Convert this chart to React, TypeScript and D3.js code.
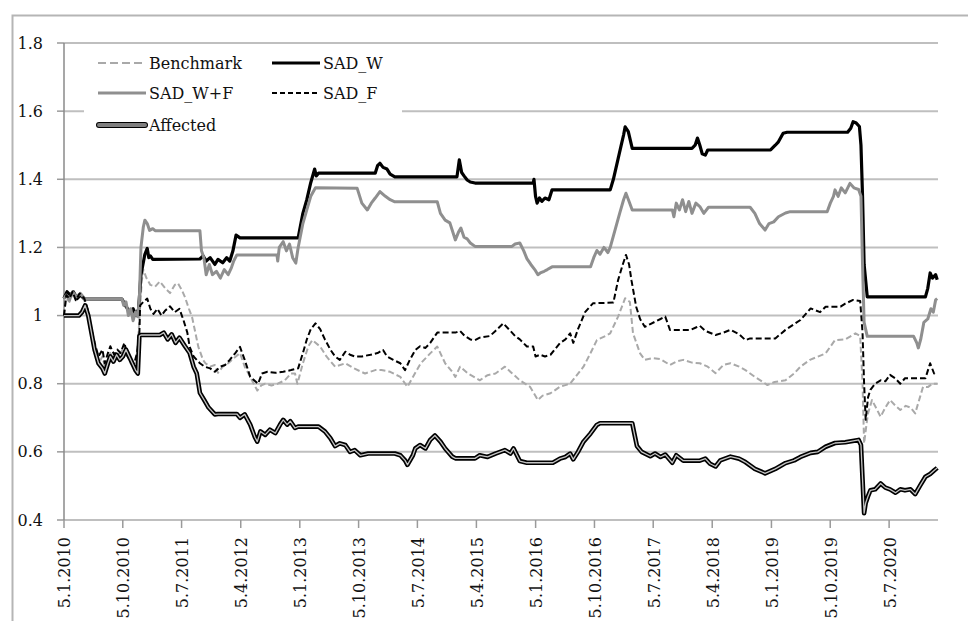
import React from "react";
import * as d3 from "d3";

type P = [number, number];

const yTicks = [0.4, 0.6, 0.8, 1, 1.2, 1.4, 1.6, 1.8];
const xTickLabels = ["5.1.2010","5.10.2010","5.7.2011","5.4.2012","5.1.2013","5.10.2013","5.7.2014","5.4.2015","5.1.2016","5.10.2016","5.7.2017","5.4.2018","5.1.2019","5.10.2019","5.7.2020"];
const xStart = 2010.011;
const xEnd = 2021.13;

const seriesNames = ["Benchmark", "SAD_W", "SAD_W+F", "SAD_F", "Affected"];

const benchmark: P[] = [[2010.01,1.0],[2010.04,1.05],[2010.08,1.04],[2010.12,1.065],[2010.16,1.05],[2010.21,1.06],[2010.27,1.045],[2010.31,1.0],[2010.35,0.95],[2010.4,0.9],[2010.45,0.86],[2010.5,0.88],[2010.53,0.85],[2010.57,0.87],[2010.6,0.89],[2010.65,0.87],[2010.69,0.885],[2010.73,0.89],[2010.78,0.91],[2010.82,0.88],[2010.86,0.86],[2010.9,0.85],[2010.94,0.87],[2010.97,0.99],[2011.0,1.1],[2011.02,1.135],[2011.06,1.11],[2011.11,1.09],[2011.17,1.085],[2011.23,1.1],[2011.3,1.08],[2011.36,1.066],[2011.42,1.09],[2011.46,1.095],[2011.51,1.075],[2011.55,1.054],[2011.6,1.02],[2011.64,0.996],[2011.72,0.908],[2011.78,0.87],[2011.81,0.86],[2011.87,0.85],[2011.93,0.855],[2011.97,0.832],[2012.03,0.85],[2012.1,0.86],[2012.17,0.875],[2012.25,0.89],[2012.31,0.85],[2012.38,0.82],[2012.47,0.78],[2012.52,0.795],[2012.57,0.8],[2012.65,0.795],[2012.73,0.8],[2012.82,0.81],[2012.9,0.83],[2012.95,0.83],[2012.98,0.8],[2013.05,0.86],[2013.12,0.91],[2013.17,0.928],[2013.27,0.909],[2013.35,0.88],[2013.46,0.85],[2013.59,0.86],[2013.7,0.845],[2013.84,0.83],[2013.97,0.84],[2014.05,0.84],[2014.16,0.835],[2014.29,0.82],[2014.38,0.791],[2014.45,0.82],[2014.55,0.86],[2014.67,0.889],[2014.76,0.909],[2014.86,0.86],[2014.95,0.835],[2014.99,0.82],[2015.05,0.85],[2015.15,0.83],[2015.3,0.81],[2015.4,0.825],[2015.5,0.83],[2015.62,0.85],[2015.71,0.831],[2015.81,0.81],[2015.94,0.791],[2016.04,0.752],[2016.1,0.765],[2016.2,0.772],[2016.32,0.791],[2016.45,0.8],[2016.62,0.85],[2016.71,0.89],[2016.79,0.928],[2016.9,0.94],[2016.96,0.948],[2017.06,0.997],[2017.15,1.051],[2017.21,1.04],[2017.25,0.948],[2017.34,0.889],[2017.4,0.87],[2017.5,0.875],[2017.6,0.872],[2017.72,0.855],[2017.8,0.865],[2017.89,0.87],[2018.0,0.862],[2018.1,0.86],[2018.2,0.85],[2018.3,0.831],[2018.4,0.855],[2018.49,0.86],[2018.6,0.85],[2018.68,0.84],[2018.8,0.82],[2018.87,0.81],[2018.96,0.796],[2019.05,0.805],[2019.19,0.81],[2019.3,0.83],[2019.38,0.85],[2019.5,0.87],[2019.7,0.889],[2019.82,0.928],[2019.95,0.93],[2020.08,0.948],[2020.14,0.94],[2020.17,0.8],[2020.19,0.625],[2020.22,0.68],[2020.24,0.713],[2020.29,0.752],[2020.34,0.73],[2020.4,0.703],[2020.46,0.73],[2020.52,0.752],[2020.59,0.735],[2020.65,0.723],[2020.72,0.735],[2020.78,0.73],[2020.84,0.713],[2020.9,0.76],[2020.94,0.791],[2021.0,0.79],[2021.06,0.8],[2021.12,0.8]];

const sadW: P[] = [[2010.01,1.05],[2010.05,1.07],[2010.09,1.06],[2010.13,1.07],[2010.18,1.05],[2010.22,1.06],[2010.28,1.048],[2010.75,1.048],[2010.79,1.03],[2010.85,1.01],[2010.89,1.02],[2010.93,1.0],[2010.96,1.02],[2010.99,1.12],[2011.04,1.18],[2011.07,1.197],[2011.09,1.17],[2011.11,1.175],[2011.14,1.165],[2011.74,1.166],[2011.78,1.175],[2011.82,1.16],[2011.87,1.17],[2011.93,1.15],[2011.97,1.165],[2012.03,1.155],[2012.08,1.17],[2012.12,1.16],[2012.16,1.19],[2012.2,1.236],[2012.25,1.228],[2012.99,1.228],[2013.05,1.3],[2013.1,1.34],[2013.15,1.39],[2013.2,1.43],[2013.22,1.41],[2013.25,1.418],[2013.97,1.418],[2014.0,1.44],[2014.03,1.447],[2014.07,1.435],[2014.12,1.43],[2014.16,1.415],[2014.22,1.407],[2015.01,1.407],[2015.04,1.457],[2015.07,1.42],[2015.1,1.41],[2015.14,1.398],[2015.18,1.392],[2015.24,1.389],[2015.98,1.389],[2015.99,1.4],[2016.01,1.35],[2016.03,1.33],[2016.06,1.345],[2016.09,1.335],[2016.13,1.345],[2016.18,1.34],[2016.22,1.369],[2016.96,1.369],[2017.0,1.4],[2017.06,1.46],[2017.1,1.5],[2017.13,1.53],[2017.15,1.554],[2017.19,1.54],[2017.24,1.491],[2018.0,1.491],[2018.04,1.5],[2018.07,1.521],[2018.1,1.5],[2018.13,1.475],[2018.17,1.471],[2018.2,1.486],[2019.0,1.486],[2019.06,1.5],[2019.1,1.51],[2019.16,1.535],[2019.21,1.538],[2019.98,1.538],[2020.02,1.55],[2020.05,1.569],[2020.09,1.565],[2020.13,1.555],[2020.15,1.5],[2020.17,1.35],[2020.19,1.15],[2020.23,1.055],[2020.97,1.055],[2021.0,1.08],[2021.03,1.125],[2021.06,1.11],[2021.1,1.12],[2021.12,1.105]];

const sadWF: P[] = [[2010.01,1.05],[2010.04,1.06],[2010.08,1.045],[2010.12,1.07],[2010.17,1.055],[2010.22,1.065],[2010.28,1.048],[2010.75,1.048],[2010.77,1.03],[2010.8,1.04],[2010.83,1.0],[2010.86,1.02],[2010.89,0.985],[2010.92,1.01],[2010.95,0.997],[2010.97,1.05],[2010.99,1.2],[2011.02,1.26],[2011.04,1.28],[2011.07,1.27],[2011.1,1.25],[2011.14,1.255],[2011.17,1.249],[2011.74,1.249],[2011.76,1.19],[2011.79,1.17],[2011.82,1.12],[2011.86,1.15],[2011.9,1.12],[2011.95,1.13],[2012.0,1.11],[2012.05,1.135],[2012.1,1.12],[2012.14,1.14],[2012.17,1.16],[2012.21,1.178],[2012.72,1.178],[2012.73,1.16],[2012.75,1.2],[2012.8,1.217],[2012.84,1.19],[2012.88,1.21],[2012.92,1.17],[2012.96,1.154],[2012.99,1.2],[2013.05,1.27],[2013.1,1.31],[2013.15,1.35],[2013.21,1.375],[2013.74,1.374],[2013.8,1.33],[2013.87,1.31],[2013.92,1.33],[2013.97,1.345],[2014.03,1.364],[2014.1,1.35],[2014.16,1.34],[2014.22,1.334],[2014.76,1.334],[2014.8,1.3],[2014.86,1.28],[2014.92,1.272],[2014.99,1.222],[2015.03,1.245],[2015.06,1.257],[2015.1,1.23],[2015.14,1.225],[2015.18,1.213],[2015.24,1.203],[2015.71,1.203],[2015.75,1.21],[2015.81,1.213],[2015.86,1.19],[2015.9,1.167],[2015.95,1.15],[2016.0,1.135],[2016.04,1.12],[2016.07,1.125],[2016.12,1.13],[2016.16,1.135],[2016.22,1.143],[2016.71,1.143],[2016.75,1.17],[2016.79,1.191],[2016.83,1.18],[2016.88,1.2],[2016.93,1.185],[2016.96,1.2],[2017.02,1.25],[2017.08,1.3],[2017.13,1.34],[2017.16,1.359],[2017.2,1.335],[2017.24,1.31],[2017.75,1.31],[2017.77,1.29],[2017.8,1.33],[2017.84,1.31],[2017.88,1.34],[2017.92,1.305],[2017.96,1.335],[2018.0,1.3],[2018.05,1.33],[2018.1,1.32],[2018.15,1.3],[2018.21,1.318],[2018.74,1.318],[2018.8,1.3],[2018.86,1.27],[2018.93,1.251],[2018.98,1.27],[2019.04,1.275],[2019.1,1.29],[2019.19,1.301],[2019.25,1.305],[2019.72,1.305],[2019.76,1.33],[2019.8,1.35],[2019.82,1.369],[2019.86,1.35],[2019.9,1.375],[2019.95,1.36],[2020.01,1.388],[2020.06,1.375],[2020.12,1.37],[2020.15,1.35],[2020.17,1.15],[2020.19,0.98],[2020.23,0.939],[2020.82,0.939],[2020.86,0.92],[2020.88,0.905],[2020.91,0.93],[2020.95,0.98],[2021.0,0.99],[2021.04,1.02],[2021.07,1.01],[2021.1,1.046],[2021.12,1.05]];

const sadF: P[] = [[2010.01,1.0],[2010.04,1.06],[2010.08,1.05],[2010.12,1.07],[2010.16,1.045],[2010.21,1.065],[2010.27,1.05],[2010.31,1.02],[2010.35,0.97],[2010.4,0.92],[2010.45,0.88],[2010.5,0.9],[2010.53,0.86],[2010.57,0.89],[2010.6,0.91],[2010.65,0.885],[2010.69,0.9],[2010.73,0.89],[2010.78,0.92],[2010.82,0.88],[2010.86,0.87],[2010.9,0.855],[2010.94,0.89],[2010.97,0.95],[2010.98,1.03],[2011.02,1.04],[2011.07,1.05],[2011.11,1.02],[2011.15,1.005],[2011.2,1.02],[2011.25,1.0],[2011.3,1.015],[2011.36,1.027],[2011.42,1.01],[2011.48,1.02],[2011.53,0.987],[2011.58,0.95],[2011.61,0.908],[2011.66,0.88],[2011.74,0.86],[2011.8,0.85],[2011.87,0.845],[2011.93,0.835],[2012.0,0.85],[2012.06,0.855],[2012.12,0.87],[2012.19,0.89],[2012.25,0.908],[2012.31,0.87],[2012.38,0.82],[2012.48,0.8],[2012.53,0.83],[2012.6,0.835],[2012.7,0.832],[2012.8,0.835],[2012.9,0.84],[2012.99,0.845],[2013.05,0.89],[2013.1,0.93],[2013.15,0.96],[2013.21,0.977],[2013.27,0.96],[2013.33,0.93],[2013.4,0.9],[2013.46,0.88],[2013.52,0.87],[2013.59,0.894],[2013.65,0.885],[2013.71,0.88],[2013.8,0.88],[2013.91,0.885],[2014.0,0.89],[2014.07,0.899],[2014.12,0.88],[2014.2,0.87],[2014.29,0.86],[2014.35,0.84],[2014.41,0.87],[2014.48,0.899],[2014.54,0.91],[2014.61,0.905],[2014.67,0.92],[2014.76,0.95],[2014.99,0.95],[2015.05,0.955],[2015.11,0.94],[2015.18,0.93],[2015.24,0.928],[2015.3,0.935],[2015.43,0.94],[2015.5,0.955],[2015.6,0.977],[2015.69,0.955],[2015.75,0.94],[2015.81,0.93],[2015.9,0.909],[2015.98,0.909],[2016.01,0.88],[2016.07,0.885],[2016.13,0.88],[2016.2,0.885],[2016.32,0.919],[2016.39,0.93],[2016.45,0.948],[2016.49,0.92],[2016.55,0.96],[2016.64,1.01],[2016.74,1.036],[2017.0,1.038],[2017.06,1.104],[2017.12,1.15],[2017.16,1.178],[2017.2,1.15],[2017.23,1.104],[2017.29,1.026],[2017.34,0.99],[2017.4,0.967],[2017.47,0.975],[2017.53,0.982],[2017.6,0.99],[2017.66,0.997],[2017.72,0.958],[2017.98,0.958],[2018.05,0.965],[2018.1,0.97],[2018.17,0.955],[2018.3,0.943],[2018.4,0.95],[2018.49,0.958],[2018.6,0.945],[2018.68,0.928],[2018.74,0.933],[2019.06,0.933],[2019.19,0.958],[2019.3,0.975],[2019.38,0.987],[2019.51,1.021],[2019.63,1.01],[2019.7,1.026],[2019.89,1.026],[2019.95,1.035],[2020.05,1.046],[2020.14,1.043],[2020.17,0.95],[2020.19,0.8],[2020.21,0.694],[2020.24,0.76],[2020.27,0.782],[2020.33,0.8],[2020.4,0.81],[2020.46,0.807],[2020.52,0.826],[2020.59,0.815],[2020.65,0.8],[2020.71,0.816],[2020.97,0.816],[2021.03,0.86],[2021.08,0.83],[2021.12,0.835]];

const affected: P[] = [[2010.01,1.0],[2010.2,1.0],[2010.24,1.01],[2010.28,1.03],[2010.32,1.0],[2010.36,0.95],[2010.4,0.9],[2010.45,0.86],[2010.5,0.845],[2010.53,0.83],[2010.57,0.86],[2010.6,0.88],[2010.64,0.865],[2010.68,0.885],[2010.72,0.87],[2010.76,0.88],[2010.8,0.9],[2010.84,0.88],[2010.88,0.86],[2010.92,0.84],[2010.95,0.83],[2010.97,0.94],[2010.99,0.943],[2011.23,0.943],[2011.28,0.95],[2011.33,0.93],[2011.38,0.945],[2011.43,0.92],[2011.48,0.935],[2011.55,0.91],[2011.61,0.89],[2011.66,0.85],[2011.7,0.83],[2011.74,0.773],[2011.8,0.75],[2011.85,0.73],[2011.93,0.71],[2011.97,0.711],[2012.21,0.711],[2012.25,0.7],[2012.31,0.71],[2012.38,0.68],[2012.44,0.643],[2012.47,0.63],[2012.51,0.66],[2012.57,0.65],[2012.63,0.665],[2012.7,0.655],[2012.76,0.68],[2012.8,0.694],[2012.85,0.68],[2012.89,0.69],[2012.95,0.67],[2012.99,0.674],[2013.25,0.674],[2013.33,0.66],[2013.4,0.64],[2013.46,0.617],[2013.52,0.625],[2013.59,0.62],[2013.65,0.6],[2013.71,0.605],[2013.78,0.59],[2013.88,0.595],[2014.22,0.595],[2014.29,0.59],[2014.35,0.575],[2014.38,0.562],[2014.45,0.59],[2014.48,0.61],[2014.54,0.62],[2014.61,0.61],[2014.67,0.635],[2014.73,0.648],[2014.8,0.63],[2014.86,0.61],[2014.95,0.586],[2014.99,0.581],[2015.24,0.581],[2015.3,0.59],[2015.4,0.585],[2015.5,0.595],[2015.56,0.6],[2015.62,0.605],[2015.69,0.595],[2015.73,0.61],[2015.81,0.573],[2015.9,0.568],[2016.23,0.568],[2016.32,0.58],[2016.39,0.585],[2016.45,0.595],[2016.49,0.578],[2016.55,0.6],[2016.62,0.63],[2016.71,0.654],[2016.79,0.679],[2016.83,0.684],[2017.24,0.684],[2017.27,0.65],[2017.3,0.617],[2017.36,0.6],[2017.47,0.587],[2017.53,0.595],[2017.6,0.585],[2017.66,0.592],[2017.75,0.568],[2017.8,0.59],[2017.89,0.574],[2018.1,0.574],[2018.17,0.58],[2018.23,0.565],[2018.3,0.557],[2018.36,0.575],[2018.49,0.586],[2018.6,0.58],[2018.68,0.57],[2018.8,0.55],[2018.93,0.537],[2019.06,0.55],[2019.19,0.567],[2019.3,0.575],[2019.38,0.585],[2019.51,0.597],[2019.6,0.6],[2019.7,0.615],[2019.82,0.626],[2019.95,0.628],[2020.12,0.635],[2020.15,0.62],[2020.17,0.52],[2020.19,0.42],[2020.21,0.45],[2020.24,0.47],[2020.27,0.487],[2020.33,0.49],[2020.4,0.507],[2020.46,0.495],[2020.52,0.49],[2020.59,0.48],[2020.65,0.49],[2020.71,0.487],[2020.78,0.49],[2020.84,0.476],[2020.9,0.5],[2020.97,0.527],[2021.03,0.535],[2021.08,0.545],[2021.12,0.553]];

function labelToYear(s: string): number {
  const [d, m, y] = s.split(".").map(Number);
  const ms = Date.UTC(y, m - 1, d) - Date.UTC(y, 0, 1);
  const len = Date.UTC(y + 1, 0, 1) - Date.UTC(y, 0, 1);
  return y + ms / len;
}

const FONT = "'DejaVu Serif', serif";

export default function App() {
  const W = 968, H = 621;
  const left = 64, right = 938, top = 43, bottom = 520;
  const x = d3.scaleLinear().domain([xStart, xEnd]).range([left, right]);
  const y = d3.scaleLinear().domain([0.4, 1.8]).range([bottom, top]);
  const line = d3.line<P>().x(d => x(d[0])).y(d => y(d[1]));

  const styles = [
    { data: benchmark, stroke: "#a9a9a9", width: 2, dash: "6,3" },
    { data: sadW, stroke: "#000", width: 3.2, dash: null },
    { data: sadWF, stroke: "#8f8f8f", width: 3, dash: null },
    { data: sadF, stroke: "#000", width: 2, dash: "6,3" },
  ];

  const legendRows = [
    { name: seriesNames[0], col: 0, row: 0 },
    { name: seriesNames[1], col: 1, row: 0 },
    { name: seriesNames[2], col: 0, row: 1 },
    { name: seriesNames[3], col: 1, row: 1 },
    { name: seriesNames[4], col: 0, row: 2 },
  ];
  const legCols = [98, 272];
  const legRowsY = [63, 93, 125];

  return (
    <svg width={W} height={H} style={{ position: "fixed", left: 0, top: 0, background: "#fff" }} fontFamily={FONT}>
      <rect x={0} y={0} width={W} height={H} fill="#fff" />
      <rect x={12.5} y={15.5} width={W + 20} height={H + 20} fill="none" stroke="#b5b5b5" strokeWidth={2} />
      {yTicks.map(t => (
        <g key={t}>
          <line x1={left} x2={right} y1={y(t)} y2={y(t)} stroke="#bfbfbf" strokeWidth={2} />
          <line x1={left - 7} x2={left} y1={y(t)} y2={y(t)} stroke="#9a9a9a" strokeWidth={1.5} />
          <text x={43} y={y(t)} textAnchor="end" dominantBaseline="central" fontSize={16} fill="#111">
            {String(t)}
          </text>
        </g>
      ))}
      <line x1={left} x2={left} y1={top} y2={bottom} stroke="#8a8a8a" strokeWidth={1.5} />
      {xTickLabels.map(s => {
        const xv = x(labelToYear(s));
        return (
          <g key={s}>
            <line x1={xv} x2={xv} y1={bottom} y2={bottom + 8} stroke="#9a9a9a" strokeWidth={1.5} />
            <text transform={`translate(${xv + 1},${bottom + 17}) rotate(-90)`} textAnchor="end" dominantBaseline="central" fontSize={16} fill="#111">
              {s}
            </text>
          </g>
        );
      })}
      <rect x={84} y={47} width={318} height={96} fill="#fff" />
      {styles.map((st, i) => (
        <path key={i} d={line(st.data) || ""} fill="none" stroke={st.stroke} strokeWidth={st.width}
          strokeDasharray={st.dash || undefined} strokeLinejoin="round" />
      ))}
      <path d={line(affected) || ""} fill="none" stroke="#000" strokeWidth={4.6} strokeLinejoin="round" />
      <path d={line(affected) || ""} fill="none" stroke="#c4c4c4" strokeWidth={1.3} strokeLinejoin="round" />
      {legendRows.map((r, i) => {
        const lx = legCols[r.col];
        const ly = legRowsY[r.row];
        let sym;
        if (i === 4) {
          sym = (
            <g>
              <line x1={lx + 1} x2={lx + 47} y1={ly} y2={ly} stroke="#000" strokeWidth={6} strokeLinecap="round" />
              <line x1={lx + 1} x2={lx + 47} y1={ly} y2={ly} stroke="#7f7f7f" strokeWidth={4} strokeLinecap="round" />
            </g>
          );
        } else {
          const st = styles[i];
          sym = <line x1={lx} x2={lx + 48} y1={ly} y2={ly} stroke={st.stroke} strokeWidth={st.width}
            strokeDasharray={i === 0 ? "8,4" : i === 3 ? "5,3" : undefined} />;
        }
        return (
          <g key={r.name}>
            {sym}
            <text x={lx + 51} y={ly} dominantBaseline="central" fontSize={16} fill="#111">{r.name}</text>
          </g>
        );
      })}
    </svg>
  );
}
